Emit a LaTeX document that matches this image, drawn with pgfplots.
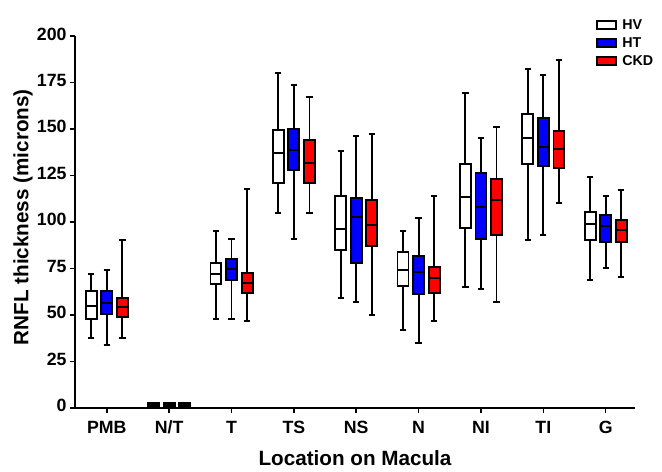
\documentclass[border=0pt]{standalone}
\usepackage{fontspec}
\setmainfont{Liberation Sans}
\usepackage{pgfplots}
\usepgfplotslibrary{statistics}
\pgfplotsset{compat=1.18}
% position, lw, lq, med, uq, uw, fill
\newcommand{\bx}[7]{\addplot[draw=black, fill=#7, line width=1.4pt, forget plot,
  boxplot/draw direction=y,
  boxplot/every whisker/.style={line width=1.4pt},
  boxplot/every median/.style={line width=1.4pt},
  boxplot prepared={draw position=#1, lower whisker=#2, lower quartile=#3, median=#4,
  upper quartile=#5, upper whisker=#6, box extend=0.176, whisker extend=0.1}] coordinates {};}
\begin{document}
\begin{tikzpicture}
\useasboundingbox (-56.25pt,-47.5pt) rectangle (440.25pt,306pt);
\begin{axis}[
  at={(0pt,0pt)}, anchor=south west,
  scale only axis, width=420pt, height=279pt,
  xmin=0.49, xmax=9.47, ymin=0, ymax=200,
  axis lines=left, axis line style={line width=1.4pt, -},
  xtick={1,...,9}, xticklabels={PMB,N/T,T,TS,NS,N,NI,TI,G},
  ytick={0,25,...,200},
  tick style={line width=1.2pt, black}, major tick length=3.8pt,
  tick align=outside,
  /pgf/number format/assume math mode=true,
  ticklabel style={font=\bfseries\fontsize{13.3}{15}\selectfont},
  typeset ticklabels with strut,
  xticklabel style={yshift=-1pt},
  yticklabel style={xshift=1pt},
  ylabel={RNFL thickness (microns)},
  xlabel={Location on Macula},
  every axis y label/.style={at={(axis description cs:-0.093,0.513)}, rotate=90, anchor=center,
    font=\bfseries\fontsize{15.5}{18}\selectfont},
  every axis x label/.style={at={(axis description cs:0.5,-0.136)}, anchor=center,
    font=\bfseries\fontsize{15.5}{18}\selectfont},
  legend style={at={(0.93,1.049)}, anchor=north west, draw=none, fill=none, inner sep=0pt,
    font=\bfseries\fontsize{10.7}{12}\selectfont, row sep=2.6pt,
    nodes={inner xsep=4pt, inner ysep=1pt}},
  legend cell align=left,
  legend image code/.code={\draw[#1, line width=1.4pt] (0pt,-3pt) rectangle (14.3pt,3pt);},
  clip=false,
]
\addlegendimage{draw=black, fill=white}\addlegendentry{HV}
\addlegendimage{draw=black, fill=blue}\addlegendentry{HT}
\addlegendimage{draw=black, fill=red}\addlegendentry{CKD}
% PMB
\bx{0.75}{37.8}{47.7}{55}{63.1}{71.9}{white}
\bx{1.0}{33.9}{50.7}{56.6}{62.7}{74}{blue}
\bx{1.25}{37.8}{48.8}{54.5}{59}{90.1}{red}
% N/T
\bx{1.75}{0}{0}{1.2}{2.5}{2.5}{black}
\bx{2.0}{0}{0}{1.2}{2.5}{2.5}{black}
\bx{2.25}{0}{0}{1.2}{2.5}{2.5}{black}
% T
\bx{2.75}{47.8}{66.8}{72}{78.1}{95}{white}
\bx{3.0}{47.8}{68.8}{74.7}{80}{91}{blue}
\bx{3.25}{47}{61.8}{67}{72.7}{117.9}{red}
% TS
\bx{3.75}{105}{121}{137.1}{149.3}{180.3}{white}
\bx{4.0}{91}{128.1}{138.7}{150.2}{173.5}{blue}
\bx{4.25}{105}{121}{131.9}{144.3}{167.2}{red}
% NS
\bx{4.75}{59}{85}{96.1}{114.2}{138.3}{white}
\bx{5.0}{57}{77.8}{102.5}{113.1}{146.2}{blue}
\bx{5.25}{49.8}{86.9}{98.4}{111.8}{147.1}{red}
% N
\bx{5.75}{41.9}{65.8}{74}{84}{95}{white}
\bx{6.0}{34.8}{61.1}{73.1}{81.5}{102}{blue}
\bx{6.25}{47}{61.6}{69.9}{76}{114.2}{red}
% NI
\bx{6.75}{64.9}{96.9}{113.4}{131.2}{169.4}{white}
\bx{7.0}{64}{90.9}{108.1}{126.3}{145.2}{blue}
\bx{7.25}{57}{92.8}{112}{123.1}{151.3}{red}
% TI
\bx{7.75}{90.2}{131.2}{145.3}{158.1}{182.3}{white}
\bx{8.0}{92.8}{130.1}{140.3}{155.7}{179.2}{blue}
\bx{8.25}{110.2}{129}{139.2}{149.1}{187.3}{red}
% G
\bx{8.75}{69}{90.3}{99.1}{105.2}{124.2}{white}
\bx{9.0}{75.1}{89.2}{97.7}{103.8}{114.2}{blue}
\bx{9.25}{70.3}{89.1}{95.5}{101.1}{117.2}{red}
\end{axis}
\end{tikzpicture}
\end{document}
